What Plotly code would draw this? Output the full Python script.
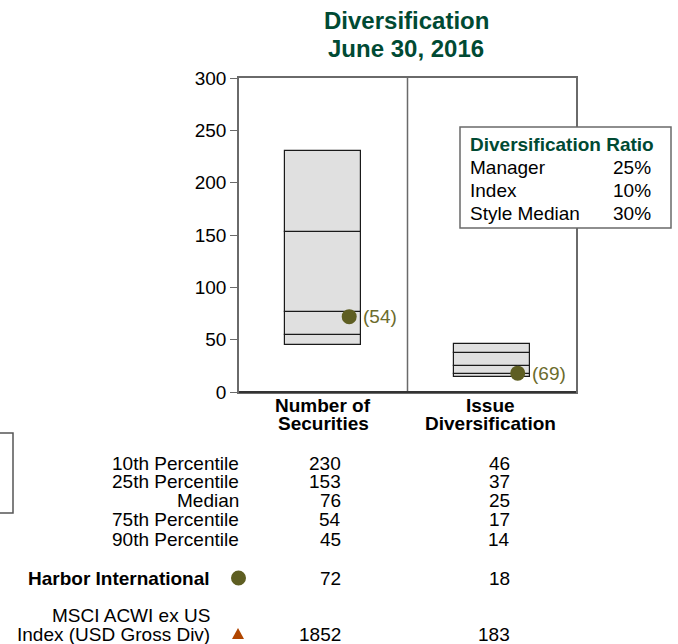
import plotly.graph_objects as go

# ---- data ----
categories = ["Number of<br>Securities", "Issue<br>Diversification"]
cat_lines = [["Number of", "Securities"], ["Issue", "Diversification"]]
cat_x = [0.5, 1.5]
p10 = [230, 46]
p25 = [153, 37]
median = [76, 25]
p75 = [54, 17]
p90 = [45, 14]
manager = [72, 18]
manager_rank = ["(54)", "(69)"]
index_vals = [1852, 183]
row_labels = ["10th Percentile", "25th Percentile", "Median", "75th Percentile", "90th Percentile"]
ratio_labels = ["Manager", "Index", "Style Median"]
ratio_values = ["25%", "10%", "30%"]
manager_name = "Harbor International"
index_name = ["MSCI ACWI ex US", "Index (USD Gross Div)"]
y_ticks = [0, 50, 100, 150, 200, 250, 300]

FONT = "Liberation Sans, Arial, sans-serif"
GREEN = "#004a33"
OLIVE = "#5e5e22"
OLIVE_TXT = "#6b6b2c"
ORANGE = "#b04600"
GRAY = "#6a6a6a"

W, H = 678, 644
L, R, T, B = 239, 576, 78, 392


def px(x):
    return (x - L) / (R - L)


def py(y):
    return (B - y) / (B - T)


fig = go.Figure()

# floating box segments
segs = [(p90, p75), (p75, median), (median, p25), (p25, p10)]
for lo, hi in segs:
    fig.add_trace(go.Bar(
        x=cat_x, y=[h - l for h, l in zip(hi, lo)], base=lo, width=0.45,
        marker=dict(color="#e0e0e0", line=dict(color="#1a1a1a", width=1.2)),
        showlegend=False, hoverinfo="skip"))

# manager dots
fig.add_trace(go.Scatter(
    x=[c + 0.154 for c in cat_x], y=manager, mode="markers",
    marker=dict(color=OLIVE, size=15, line=dict(width=0)),
    showlegend=False, cliponaxis=False, hoverinfo="skip"))

ann = []
for c, m, r in zip(cat_x, manager, manager_rank):
    ann.append(dict(x=c + 0.154, y=m, xref="x", yref="y", text=r, showarrow=False,
                    xanchor="left", yanchor="middle", xshift=12,
                    font=dict(family=FONT, size=19, color=OLIVE_TXT)))

# title
ann.append(dict(x=px(406), y=py(21), xref="paper", yref="paper", text="<b>Diversification</b>",
                showarrow=False, xanchor="center", yanchor="middle",
                font=dict(family=FONT, size=24, color=GREEN)))
ann.append(dict(x=px(406), y=py(49), xref="paper", yref="paper", text="<b>June 30, 2016</b>",
                showarrow=False, xanchor="center", yanchor="middle",
                font=dict(family=FONT, size=24, color=GREEN)))

# category labels
cat_px = [323, 490]
for cx, lines in zip(cat_px, cat_lines):
    for i, t in enumerate(lines):
        ann.append(dict(x=px(cx), y=py(405 + 18 * i), xref="paper", yref="paper",
                        text=f"<b>{t}</b>", showarrow=False, xanchor="center", yanchor="middle",
                        font=dict(family=FONT, size=19, color="black")))

# table
row_y = [463, 481, 500, 519, 539]
col_right = [343, 512]
pct_cols = [p10, p25, median, p75, p90]
for lab, yy, vals in zip(row_labels, row_y, pct_cols):
    ann.append(dict(x=px(241), y=py(yy), xref="paper", yref="paper", text=lab, showarrow=False,
                    xanchor="right", yanchor="middle", font=dict(family=FONT, size=19, color="black")))
    for cr, v in zip(col_right, vals):
        ann.append(dict(x=px(cr), y=py(yy), xref="paper", yref="paper", text=str(v), showarrow=False,
                        xanchor="right", yanchor="middle", font=dict(family=FONT, size=19, color="black")))

ann.append(dict(x=px(212), y=py(578), xref="paper", yref="paper", text=f"<b>{manager_name}</b>",
                showarrow=False, xanchor="right", yanchor="middle",
                font=dict(family=FONT, size=19, color="black")))
for cr, v in zip(col_right, manager):
    ann.append(dict(x=px(cr), y=py(578), xref="paper", yref="paper", text=str(v), showarrow=False,
                    xanchor="right", yanchor="middle", font=dict(family=FONT, size=19, color="black")))

for i, t in enumerate(index_name):
    ann.append(dict(x=px(212), y=py(615 + 19 * i), xref="paper", yref="paper", text=t,
                    showarrow=False, xanchor="right", yanchor="middle",
                    font=dict(family=FONT, size=19, color="black")))
for cr, v in zip(col_right, index_vals):
    ann.append(dict(x=px(cr), y=py(634), xref="paper", yref="paper", text=str(v), showarrow=False,
                    xanchor="right", yanchor="middle", font=dict(family=FONT, size=19, color="black")))

# ratio box text
ann.append(dict(x=px(468), y=py(144), xref="paper", yref="paper", text="<b>Diversification Ratio</b>",
                showarrow=False, xanchor="left", yanchor="middle",
                font=dict(family=FONT, size=19, color=GREEN)))
for i, (lab, v) in enumerate(zip(ratio_labels, ratio_values)):
    yy = 167 + 23 * i
    ann.append(dict(x=px(468), y=py(yy), xref="paper", yref="paper", text=lab, showarrow=False,
                    xanchor="left", yanchor="middle", font=dict(family=FONT, size=19, color="black")))
    ann.append(dict(x=px(653), y=py(yy), xref="paper", yref="paper", text=v, showarrow=False,
                    xanchor="right", yanchor="middle", font=dict(family=FONT, size=19, color="black")))

shapes = [
    # divider between categories
    dict(type="line", xref="x", yref="paper", x0=1, x1=1, y0=0, y1=1,
         line=dict(color=GRAY, width=1.5), layer="above"),
    # ratio box
    dict(type="rect", xref="paper", yref="paper", x0=px(460), x1=px(671), y0=py(127), y1=py(228),
         fillcolor="white", line=dict(color=GRAY, width=1.5), layer="above"),
    # manager circle in table
    dict(type="circle", xref="paper", yref="paper", x0=px(231), x1=px(246), y0=py(570.5), y1=py(585.5),
         fillcolor=OLIVE, line=dict(width=0), layer="above"),
    # index triangle
    dict(type="path", xref="paper", yref="paper",
         path=f"M {px(232)} {py(639)} L {px(244)} {py(639)} L {px(238)} {py(628)} Z",
         fillcolor=ORANGE, line=dict(width=0), layer="above"),
    # partial frame at left edge
    dict(type="rect", xref="paper", yref="paper", x0=px(-6), x1=px(13), y0=py(433), y1=py(513),
         fillcolor="rgba(0,0,0,0)", line=dict(color="#555555", width=1.5), layer="above"),
    # darker bottom axis line
    dict(type="line", xref="paper", yref="paper", x0=0, x1=1, y0=0, y1=0,
         line=dict(color="#333333", width=2), layer="above"),
]

fig.update_layout(
    width=W, height=H,
    margin=dict(l=L, r=W - R, t=T, b=H - B, pad=0),
    paper_bgcolor="white", plot_bgcolor="white",
    barmode="overlay", bargap=0,
    showlegend=False,
    annotations=ann, shapes=shapes,
    font=dict(family=FONT, size=19, color="black"),
)
fig.update_xaxes(range=[0, 2], showticklabels=False, ticks="", showgrid=False, zeroline=False,
                 showline=True, linecolor=GRAY, linewidth=1.5, mirror=True, fixedrange=True)
fig.update_yaxes(range=[0, 300], tickvals=y_ticks, ticks="outside", ticklen=7, tickcolor=GRAY,
                 tickwidth=1.2, showgrid=False, zeroline=False, showline=True, linecolor=GRAY,
                 linewidth=1.5, mirror=True, tickfont=dict(family=FONT, size=19, color="black"))

fig.write_html("out.html", config={"displayModeBar": False},
               post_script="document.body.style.margin='0';document.body.style.overflow='hidden';")
